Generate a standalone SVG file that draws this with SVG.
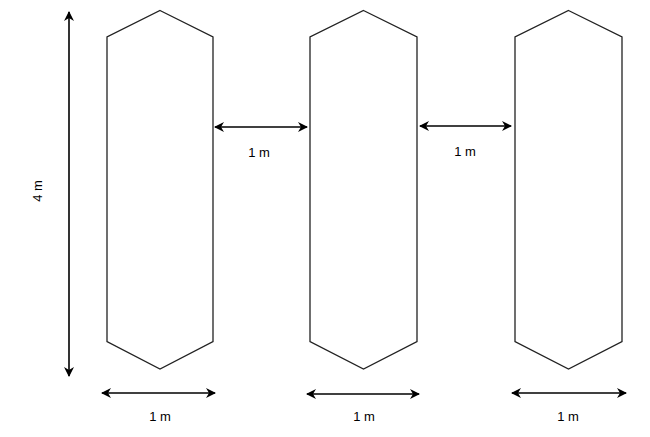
<svg xmlns="http://www.w3.org/2000/svg" width="650" height="437" viewBox="0 0 650 437">
<style>
.hex{fill:#fff;stroke:#222;stroke-width:1.3}
.con{stroke:#000;stroke-width:1.6;fill:none;marker-start:url(#ah);marker-end:url(#ah)}
.lbl{font-family:"Liberation Sans",Arial,sans-serif;font-size:13px;fill:#000;text-anchor:middle}
</style>
<defs>
<marker id="ah" viewBox="0 0 10 10" refX="9" refY="5" markerWidth="10" markerHeight="10" markerUnits="userSpaceOnUse" orient="auto-start-reverse">
<path d="M0,0 L10,5 L0,10 L3,5 Z" fill="#000"/>
</marker>
</defs>
<rect width="650" height="437" fill="#fff"/>
<g id="hex1"><polygon class="hex" points="160,10.5 213,37 213,341.5 160,369 107,341.5 107,37"/></g>
<g id="hex2"><polygon class="hex" points="363.5,10.5 417,37 417,341.5 363.5,369 310,341.5 310,37"/></g>
<g id="hex3"><polygon class="hex" points="568.5,10.5 622,37 622,341.5 568.5,369 515,341.5 515,37"/></g>
<g id="connectors">
<line class="con" x1="69" y1="12" x2="69" y2="376"/>
<line class="con" x1="215" y1="127" x2="307" y2="127"/>
<line class="con" x1="420" y1="126" x2="511" y2="126"/>
<line class="con" x1="102" y1="393" x2="215" y2="393"/>
<line class="con" x1="307" y1="394" x2="419" y2="394"/>
<line class="con" x1="512" y1="393" x2="626" y2="393"/>
</g>
<g id="labels">
<text class="lbl" x="259" y="157">1 m</text>
<text class="lbl" x="465" y="156">1 m</text>
<text class="lbl" x="160" y="421">1 m</text>
<text class="lbl" x="364" y="421">1 m</text>
<text class="lbl" x="568" y="421">1 m</text>
<text class="lbl" transform="translate(42,191) rotate(-90)">4 m</text>
</g>
</svg>
